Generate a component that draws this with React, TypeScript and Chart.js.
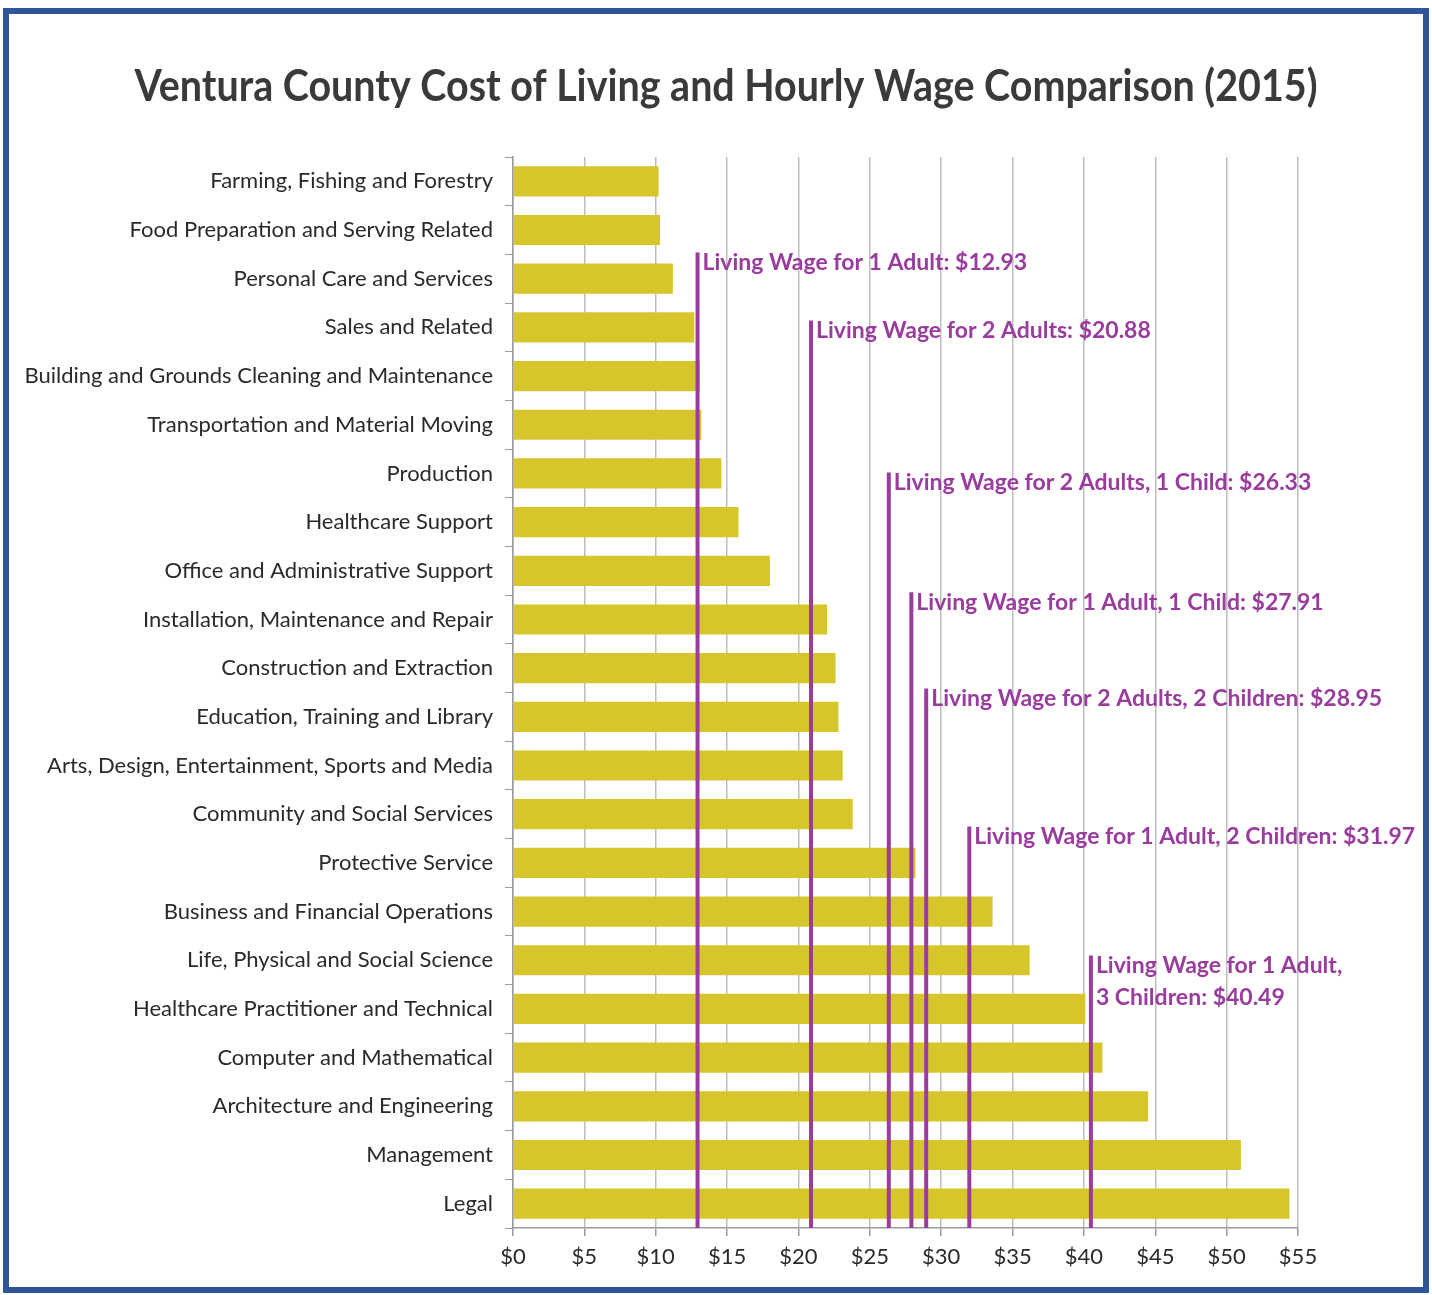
import React, { useEffect, useRef } from "react";
import { Chart, registerables } from "chart.js";

Chart.register(...registerables);

const categories = [
  "Farming, Fishing and Forestry",
  "Food Preparation and Serving Related",
  "Personal Care and Services",
  "Sales and Related",
  "Building and Grounds Cleaning and Maintenance",
  "Transportation and Material Moving",
  "Production",
  "Healthcare Support",
  "Office and Administrative Support",
  "Installation, Maintenance and Repair",
  "Construction and Extraction",
  "Education, Training and Library",
  "Arts, Design, Entertainment, Sports and Media",
  "Community and Social Services",
  "Protective Service",
  "Business and Financial Operations",
  "Life, Physical and Social Science",
  "Healthcare Practitioner and Technical",
  "Computer and Mathematical",
  "Architecture and Engineering",
  "Management",
  "Legal",
];

const hourlyWage = [
  10.2, 10.3, 11.2, 12.7, 13.1, 13.2, 14.6, 15.8, 18.0, 22.0, 22.6, 22.8, 23.1,
  23.8, 28.2, 33.6, 36.2, 40.1, 41.3, 44.5, 51.0, 54.4,
];

const livingWageValues = [12.93, 20.88, 26.33, 27.91, 28.95, 31.97, 40.49];
const livingWageLabels = [
  ["Living Wage for 1 Adult: $12.93"],
  ["Living Wage for 2 Adults: $20.88"],
  ["Living Wage for 2 Adults, 1 Child: $26.33"],
  ["Living Wage for 1 Adult, 1 Child: $27.91"],
  ["Living Wage for 2 Adults, 2 Children: $28.95"],
  ["Living Wage for 1 Adult, 2 Children: $31.97"],
  ["Living Wage for 1 Adult,", "3 Children: $40.49"],
];

const xTicks = [0, 5, 10, 15, 20, 25, 30, 35, 40, 45, 50, 55];

const TITLE = "Ventura County Cost of Living and Hourly Wage Comparison (2015)";

const PURPLE = "#9a3c9e";
const BAR = "#d7c62b";
const FONT = "Lato, 'Open Sans', sans-serif";

// category-axis rows at which each living-wage annotation begins
const labelRows = [1.46, 2.86, 5.98, 8.44, 10.42, 13.25, 15.9];

const titlePlugin = {
  id: "customTitle",
  afterDraw(chart: any) {
    const { ctx } = chart;
    ctx.save();
    ctx.font = `bold 44px ${FONT}`;
    ctx.fillStyle = "#3a3a3a";
    ctx.textAlign = "center";
    ctx.textBaseline = "middle";
    const w = ctx.measureText(TITLE).width;
    const target = 1183;
    ctx.translate(726, 87);
    ctx.scale(target / w, 1);
    ctx.fillText(TITLE, 0, 0);
    ctx.restore();
  },
};

const livingWagePlugin = {
  id: "livingWage",
  afterDatasetsDraw(chart: any) {
    const { ctx, chartArea, scales } = chart;
    const xs = scales.x;
    const ys = scales.y;
    ctx.save();
    livingWageValues.forEach((v, i) => {
      const x = xs.getPixelForValue(v);
      const yTop = ys.getPixelForValue(labelRows[i]);
      ctx.strokeStyle = PURPLE;
      ctx.lineWidth = 4;
      ctx.beginPath();
      ctx.moveTo(x, chartArea.bottom);
      ctx.lineTo(x, yTop);
      ctx.stroke();
      ctx.fillStyle = PURPLE;
      ctx.font = `bold 23px ${FONT}`;
      ctx.textAlign = "left";
      ctx.textBaseline = "middle";
      livingWageLabels[i].forEach((line, j) => {
        ctx.fillText(line, x + 5, yTop + 10 + j * 32);
      });
    });
    ctx.restore();
  },
};

export default function App() {
  const ref = useRef<HTMLCanvasElement>(null);
  useEffect(() => {
    if (!ref.current) return;
    const chart = new Chart(ref.current, {
      type: "bar",
      data: {
        labels: categories,
        datasets: [
          {
            data: hourlyWage,
            backgroundColor: BAR,
            borderWidth: 0,
            categoryPercentage: 0.62,
            barPercentage: 1,
          },
        ],
      },
      options: {
        indexAxis: "y",
        animation: false,
        responsive: false,
        layout: { padding: { left: 0, right: 134, top: 157, bottom: 0 } },
        plugins: {
          legend: { display: false },
          tooltip: { enabled: false },
          title: { display: false },
        },
        scales: {
          x: {
            min: 0,
            max: 55,
            afterBuildTicks: (s: any) => {
              s.ticks = xTicks.map((v) => ({ value: v }));
            },
            afterFit: (s: any) => {
              s.height = 67;
            },
            grid: {
              color: "#bdbdbd",
              lineWidth: 1.5,
              drawTicks: true,
              tickLength: 8,
              tickColor: "#9a9a9a",
            },
            border: { color: "#9a9a9a", width: 1.5 },
            ticks: {
              color: "#2a2a2a",
              font: { family: FONT, size: 22 },
              padding: 8,
              callback: (v: any) => "$" + v,
            },
          },
          y: {
            afterFit: (s: any) => {
              s.width = 513;
            },
            grid: {
              drawOnChartArea: false,
              drawTicks: true,
              tickLength: 8,
              tickColor: "#9a9a9a",
            },
            border: { color: "#9a9a9a", width: 1.5 },
            ticks: {
              color: "#2a2a2a",
              font: { family: FONT, size: 22 },
              padding: 12,
            },
          },
        },
      },
      plugins: [livingWagePlugin, titlePlugin],
    });
    return () => chart.destroy();
  }, []);

  return (
    <div
      style={{
        position: "absolute",
        left: 0,
        top: 0,
        width: 1432,
        height: 1295,
        background: "#fff",
      }}
    >
      <canvas
        ref={ref}
        width={1432}
        height={1295}
        style={{ position: "absolute", left: 0, top: 0, width: 1432, height: 1295 }}
      />
      <div
        style={{
          position: "absolute",
          left: 3,
          top: 8,
          width: 1426,
          height: 1285,
          border: "6px solid #2e5597",
          boxSizing: "border-box",
          pointerEvents: "none",
        }}
      />
    </div>
  );
}
